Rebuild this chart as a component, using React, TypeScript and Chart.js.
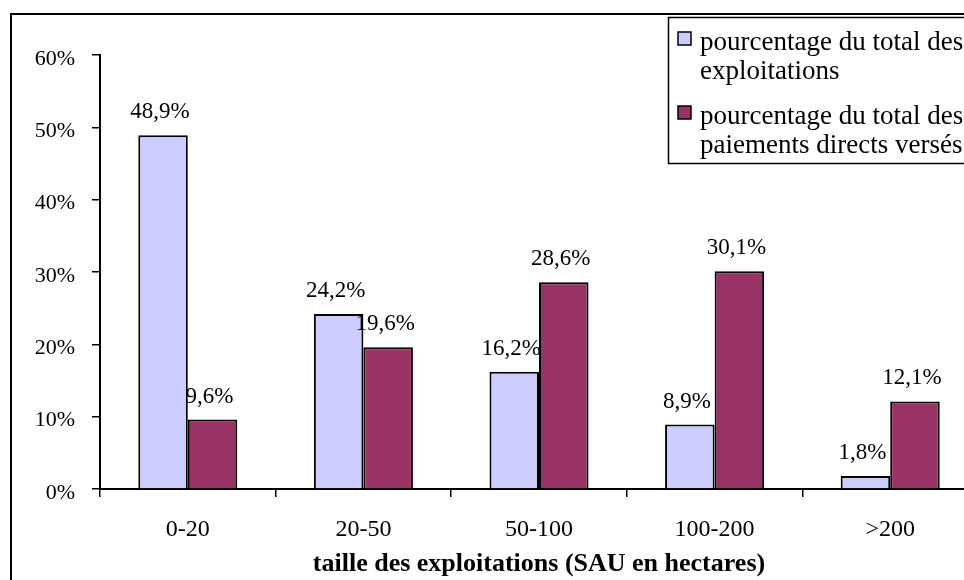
import React, { useEffect, useRef } from "react";
import { Chart, registerables } from "chart.js";

Chart.register(...registerables);

const categories = ["0-20", "20-50", "50-100", "100-200", ">200"];
const exploitations = [48.9, 24.2, 16.2, 8.9, 1.8];
const paiements = [9.6, 19.6, 28.6, 30.1, 12.1];
const seriesNames = [
  ["pourcentage du total des", "exploitations"],
  ["pourcentage du total des", "paiements directs versés"],
];
const seriesColors = ["#CCCCFF", "#993366"];
const axisTitle = "taille des exploitations (SAU en hectares)";
const yMin = 0;
const yMax = 60;
const yStep = 10;

const FONT = "'Liberation Serif', 'Times New Roman', serif";

const fmt = (v: number) => v.toFixed(1).replace(".", ",") + "%";

const frameAndLegend = {
  id: "frameAndLegend",
  afterDraw(chart: any) {
    const ctx = chart.ctx;
    ctx.save();
    // outer frame
    ctx.strokeStyle = "#000";
    ctx.lineWidth = 2;
    ctx.strokeRect(11, 14, 3000, 3000);
    // legend box
    ctx.lineWidth = 1.5;
    ctx.fillStyle = "#fff";
    ctx.fillRect(668, 17, 400, 146);
    ctx.strokeRect(668.5, 17.5, 400, 146);
    const items = chart.data.datasets;
    ctx.font = `27px ${FONT}`;
    ctx.textBaseline = "alphabetic";
    ctx.textAlign = "left";
    items.forEach((ds: any, i: number) => {
      const top = 32 + i * 74;
      ctx.fillStyle = ds.backgroundColor;
      ctx.fillRect(678, top, 13, 13);
      ctx.lineWidth = 1.5;
      ctx.strokeStyle = "#000";
      ctx.strokeRect(678, top, 13, 13);
      ctx.fillStyle = "#000";
      const lines: string[] = seriesNames[i];
      lines.forEach((ln, j) => {
        ctx.fillText(ln, 700, top + 18 + j * 29);
      });
    });
    ctx.restore();
  },
};

const dataLabels = {
  id: "dataLabels",
  afterDatasetsDraw(chart: any) {
    const ctx = chart.ctx;
    ctx.save();
    ctx.font = `23px ${FONT}`;
    ctx.fillStyle = "#000";
    ctx.textAlign = "center";
    ctx.textBaseline = "alphabetic";
    chart.data.datasets.forEach((ds: any, di: number) => {
      const meta = chart.getDatasetMeta(di);
      meta.data.forEach((bar: any, i: number) => {
        ctx.fillText(fmt(ds.data[i]), bar.x - 3, bar.y - 17);
      });
    });
    ctx.restore();
  },
};

export default function App() {
  const ref = useRef<HTMLCanvasElement>(null);
  useEffect(() => {
    if (!ref.current) return;
    const chart = new Chart(ref.current, {
      type: "bar",
      data: {
        labels: categories,
        datasets: [
          {
            label: seriesNames[0].join(" "),
            data: exploitations,
            backgroundColor: seriesColors[0],
            borderColor: "#000",
            borderWidth: 2,
            categoryPercentage: 0.564,
            barPercentage: 1,
          },
          {
            label: seriesNames[1].join(" "),
            data: paiements,
            backgroundColor: seriesColors[1],
            borderColor: "#000",
            borderWidth: 2,
            categoryPercentage: 0.564,
            barPercentage: 1,
          },
        ],
      },
      options: {
        responsive: false,
        animation: false,
        devicePixelRatio: 1,
        layout: { padding: { top: 55, right: 12, bottom: 0, left: 0 } },
        plugins: { legend: { display: false }, tooltip: { enabled: false }, title: { display: false } },
        scales: {
          x: {
            grid: {
              display: true,
              drawOnChartArea: false,
              drawTicks: true,
              tickLength: 8,
              color: "#000",
              lineWidth: 1.5,
              offset: true,
            },
            border: { display: true, color: "#000", width: 2 },
            ticks: { color: "#000", font: { family: FONT, size: 24 }, padding: 18, maxRotation: 0 },
            title: {
              display: true,
              text: axisTitle,
              color: "#000",
              font: { family: FONT, size: 26, weight: "bold" },
              padding: { top: 0, bottom: 0 },
            },
            afterFit: (s: any) => {
              s.height = 91;
            },
          },
          y: {
            min: yMin,
            max: yMax,
            grid: {
              display: true,
              drawOnChartArea: false,
              drawTicks: true,
              tickLength: 8,
              color: "#000",
              lineWidth: 1.5,
            },
            border: { display: true, color: "#000", width: 2 },
            ticks: {
              stepSize: yStep,
              color: "#000",
              padding: 17,
              labelOffset: 4,
              font: { family: FONT, size: 22 },
              callback: (v: any) => v + "%",
            },
            afterFit: (s: any) => {
              s.width = 100;
            },
          },
        },
      },
      plugins: [dataLabels, frameAndLegend],
    });
    return () => chart.destroy();
  }, []);
  return (
    <div style={{ position: "fixed", left: 0, top: 0, width: 964, height: 580, overflow: "hidden", background: "#fff" }}>
      <canvas ref={ref} width={990} height={580} style={{ display: "block" }} />
    </div>
  );
}
